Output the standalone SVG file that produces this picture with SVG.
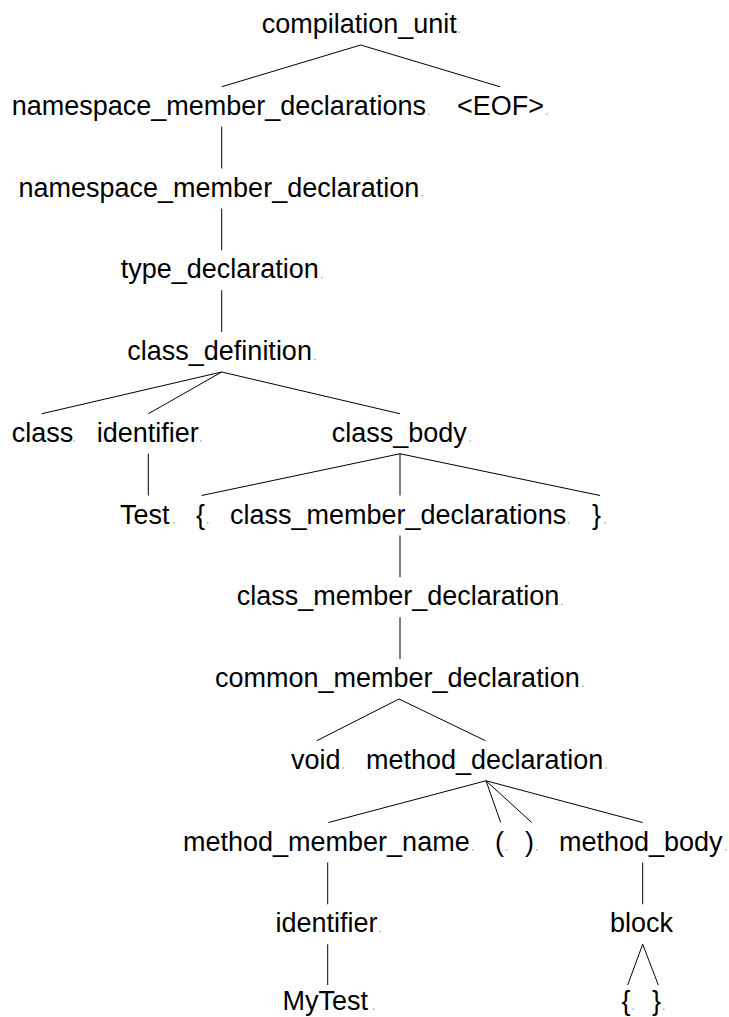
<svg xmlns="http://www.w3.org/2000/svg" width="729" height="1017" viewBox="0 0 729 1017">
<style>
text{font-family:"Liberation Sans",Arial,sans-serif;font-size:27px;fill:#000}
.e line{stroke:#000;stroke-width:1}
.d{fill:#aaa}
</style>
<rect width="729" height="1017" fill="#fff"/>
<g id="edges" class="e">
<line x1="360.7" y1="45" x2="221.7" y2="86.75"/>
<line x1="360.7" y1="45" x2="500" y2="86.75"/>
<line x1="221.7" y1="126.75" x2="221.7" y2="168.5"/>
<line x1="221.7" y1="208.5" x2="221.7" y2="250.25"/>
<line x1="221.7" y1="290.25" x2="221.7" y2="332"/>
<line x1="221.7" y1="372" x2="41.7" y2="413.75"/>
<line x1="221.7" y1="372" x2="148.3" y2="413.75"/>
<line x1="221.7" y1="372" x2="400" y2="413.75"/>
<line x1="148.3" y1="453.75" x2="148.3" y2="495.5"/>
<line x1="400" y1="453.75" x2="201.7" y2="495.5"/>
<line x1="400" y1="453.75" x2="400" y2="495.5"/>
<line x1="400" y1="453.75" x2="600" y2="495.5"/>
<line x1="400" y1="535.5" x2="400" y2="577.25"/>
<line x1="400" y1="617.25" x2="400" y2="659"/>
<line x1="399" y1="699" x2="316.7" y2="740.75"/>
<line x1="399" y1="699" x2="485.5" y2="740.75"/>
<line x1="486" y1="780.75" x2="328.3" y2="822.5"/>
<line x1="486" y1="780.75" x2="500.7" y2="822.5"/>
<line x1="486" y1="780.75" x2="531.7" y2="822.5"/>
<line x1="486" y1="780.75" x2="642.7" y2="822.5"/>
<line x1="327.7" y1="862.5" x2="327.7" y2="904.25"/>
<line x1="642.7" y1="862.5" x2="642.7" y2="904.25"/>
<line x1="327.7" y1="944.25" x2="327.7" y2="985"/>
<line x1="642.7" y1="944.25" x2="627.7" y2="985"/>
<line x1="642.7" y1="944.25" x2="658.3" y2="985"/>
</g>
<g id="n1"><text x="261.7" y="33">compilation_unit</text><rect class="d" x="458.5" y="31.5" width="1.5" height="1.5"/></g>
<g id="n2"><text x="11.7" y="114.75">namespace_member_declarations</text><rect class="d" x="428" y="113.25" width="1.5" height="1.5"/></g>
<g id="n3"><text x="457" y="114.75">&lt;EOF&gt;</text><rect class="d" x="546" y="113.25" width="1.5" height="1.5"/></g>
<g id="n4"><text x="18.5" y="196.5">namespace_member_declaration</text><rect class="d" x="421.5" y="195" width="1.5" height="1.5"/></g>
<g id="n5"><text x="120.7" y="278.25">type_declaration</text><rect class="d" x="321" y="276.75" width="1.5" height="1.5"/></g>
<g id="n6"><text x="127.3" y="360">class_definition</text><rect class="d" x="314" y="358.5" width="1.5" height="1.5"/></g>
<g id="n7"><text x="11.7" y="441.75">class</text><rect class="d" x="73.5" y="440.25" width="1.5" height="1.5"/></g>
<g id="n8"><text x="96.7" y="441.75">identifier</text><rect class="d" x="200" y="440.25" width="1.5" height="1.5"/></g>
<g id="n9"><text x="331.7" y="441.75">class_body</text><rect class="d" x="469.5" y="440.25" width="1.5" height="1.5"/></g>
<g id="n10"><text x="120" y="523.5">Test</text><rect class="d" x="173.5" y="522" width="1.5" height="1.5"/></g>
<g id="n11"><text x="196" y="523.5">{</text><rect class="d" x="207" y="522" width="1.5" height="1.5"/></g>
<g id="n12"><text x="230" y="523.5">class_member_declarations</text><rect class="d" x="568" y="522" width="1.5" height="1.5"/></g>
<g id="n13"><text x="592" y="523.5">}</text><rect class="d" x="604" y="522" width="1.5" height="1.5"/></g>
<g id="n14"><text x="236.7" y="605.25">class_member_declaration</text><rect class="d" x="561.5" y="603.75" width="1.5" height="1.5"/></g>
<g id="n15"><text x="215" y="687">common_member_declaration</text><rect class="d" x="582" y="685.5" width="1.5" height="1.5"/></g>
<g id="n16"><text x="291" y="768.75">void</text><rect class="d" x="342.5" y="767.25" width="1.5" height="1.5"/></g>
<g id="n17"><text x="366" y="768.75">method_declaration</text><rect class="d" x="605.5" y="767.25" width="1.5" height="1.5"/></g>
<g id="n18"><text x="183" y="850.5">method_member_name</text><rect class="d" x="472" y="849" width="1.5" height="1.5"/></g>
<g id="n19"><text x="495" y="850.5">(</text><rect class="d" x="506" y="849" width="1.5" height="1.5"/></g>
<g id="n20"><text x="525" y="850.5">)</text><rect class="d" x="536" y="849" width="1.5" height="1.5"/></g>
<g id="n21"><text x="559" y="850.5">method_body</text><rect class="d" x="725" y="849" width="1.5" height="1.5"/></g>
<g id="n22"><text x="275.5" y="932.25">identifier</text><rect class="d" x="379" y="930.75" width="1.5" height="1.5"/></g>
<g id="n23"><text x="610" y="932.25">block</text></g>
<g id="n24"><text x="282.5" y="1010">MyTest</text><rect class="d" x="373" y="1008.5" width="1.5" height="1.5"/></g>
<g id="n25"><text x="621.5" y="1010">{</text><rect class="d" x="632.5" y="1008.5" width="1.5" height="1.5"/></g>
<g id="n26"><text x="652" y="1010">}</text><rect class="d" x="663" y="1008.5" width="1.5" height="1.5"/></g>
</svg>
